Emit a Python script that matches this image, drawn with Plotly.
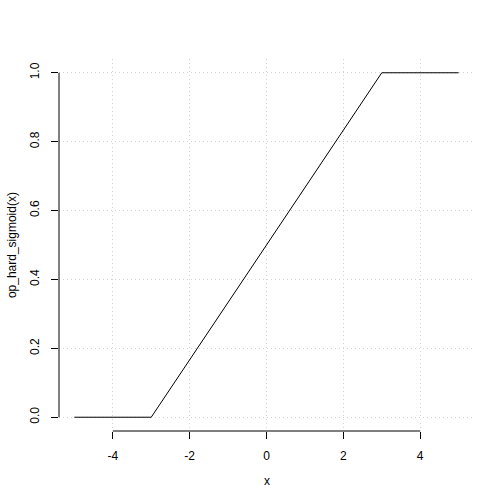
import plotly.graph_objects as go

x_vals = [-5, -3, 3, 5]
y_vals = [0.0, 0.0, 1.0, 1.0]
x_ticks = [-4, -2, 0, 2, 4]
y_ticks = [0.0, 0.2, 0.4, 0.6, 0.8, 1.0]
x_label = "x"
y_label = "op_hard_sigmoid(x)"

font = dict(family="Liberation Sans, Arial, sans-serif", size=12, color="black")

fig = go.Figure()
fig.add_trace(go.Scatter(x=x_vals, y=y_vals, mode="lines",
                         line=dict(color="black", width=1), showlegend=False, hoverinfo="skip"))

fig.update_layout(
    width=504, height=504,
    margin=dict(l=59, r=30, t=59, b=73, pad=0),
    paper_bgcolor="white", plot_bgcolor="white",
    font=font,
    xaxis=dict(range=[-5.4, 5.4], tickvals=x_ticks, ticktext=[f"{v:g}" for v in x_ticks],
               showline=False, zeroline=False, ticks="outside", ticklen=7, tickwidth=1,
               tickcolor="black", showgrid=True, gridcolor="#D3D3D3", griddash="1px,3px",
               gridwidth=1, ticklabelstandoff=7, fixedrange=True),
    yaxis=dict(range=[-0.04, 1.04], tickvals=y_ticks, ticktext=[f"{v:.1f}" for v in y_ticks],
               showline=False, zeroline=False, ticks="outside", ticklen=7, tickwidth=1,
               tickcolor="black", showgrid=True, gridcolor="#D3D3D3", griddash="1px,3px",
               gridwidth=1, tickangle=-90, ticklabelstandoff=7, fixedrange=True),
)

# R-style axis lines spanning only the tick range
fig.add_shape(type="line", xref="x", yref="paper", x0=min(x_ticks), x1=max(x_ticks),
              y0=0, y1=0, line=dict(color="black", width=1))
fig.add_shape(type="line", xref="paper", yref="y", x0=0, x1=0,
              y0=min(y_ticks), y1=max(y_ticks), line=dict(color="black", width=1))

fig.add_annotation(text=x_label, xref="paper", yref="paper", x=0.5, y=-0.134,
                   showarrow=False, xanchor="center", yanchor="middle", font=font)
fig.add_annotation(text=y_label, xref="paper", yref="paper", x=-0.113, y=0.5,
                   showarrow=False, xanchor="center", yanchor="middle", textangle=-90, font=font)

fig.write_html("out.html", config={"displayModeBar": False},
               post_script="document.body.style.margin='0';document.body.style.overflow='hidden';")
